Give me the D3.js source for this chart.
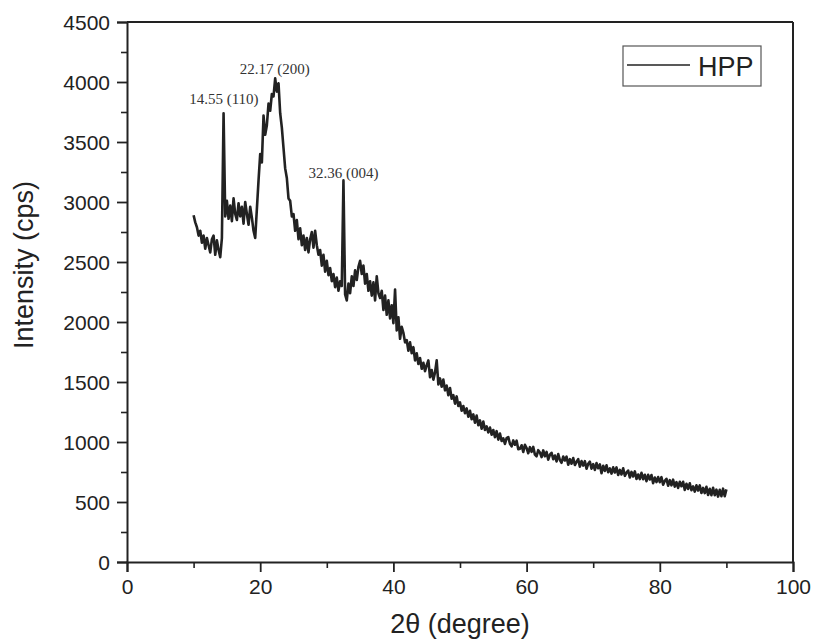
<!DOCTYPE html>
<html>
<head>
<meta charset="utf-8">
<script src="https://cdn.jsdelivr.net/npm/d3@7"></script>
<style>
  body { margin: 0; background: #fff; }
  .tick text { font-family: "Liberation Sans", Arial, sans-serif; font-size: 21px; fill: #222; }
  .axisText { font-family: "Liberation Sans", Arial, sans-serif; font-size: 27px; fill: #222; }
  .peakText { font-family: "Liberation Serif", "Times New Roman", serif; font-size: 15px; fill: #333; }
</style>
</head>
<body>
<div id="chart"></div>
<script>
// chart dimensions
var svgWidth = 814;
var svgHeight = 641;

var margin = { top: 22, right: 21, bottom: 79, left: 127 };
var width = svgWidth - margin.left - margin.right;
var height = svgHeight - margin.top - margin.bottom;

// data: 2theta sampled every 0.25 degree from 10 to 90, intensity in cps
var thetaStart = 10;
var thetaStep = 0.25;
var intensity = [
  // 10 - 19.75
  2890, 2830, 2790, 2720,  2760, 2660, 2720, 2610,  2700, 2640, 2580, 2690,
  2720, 2560, 2680, 2600,  2540, 2700, 3740, 2880,  3010, 2860, 2970, 2840,
  3030, 2900, 2850, 2990,  2880, 2960, 2820, 3000,  2900, 2810, 2960, 2870,
  2760, 2700, 2940, 3180,
  // 20 - 29.75
  3400, 3330, 3720, 3560,  3640, 3820, 3760, 3900,  3880, 4030, 3920, 3990,
  3740, 3620, 3450, 3280,  3200, 3030, 3010, 2880,  2900, 2760, 2850, 2690,
  2780, 2640, 2720, 2600,  2700, 2580, 2690, 2750,  2620, 2760, 2640, 2560,
  2600, 2470, 2560, 2420,
  // 30 - 39.75
  2510, 2390, 2450, 2340,  2400, 2290, 2370, 2260,  2340, 2300, 3180, 2230,
  2180, 2320, 2240, 2380,  2300, 2430, 2350, 2460,  2510, 2400, 2470, 2320,
  2400, 2260, 2340, 2220,  2330, 2180, 2380, 2240,  2200, 2260, 2100, 2220,
  2060, 2180, 2030, 2140,
  // 40 - 49.75
  1990, 2270, 1930, 2040,  1860, 1960, 1910, 1830,  1850, 1760, 1830, 1740,
  1790, 1680, 1740, 1650,  1700, 1610, 1660, 1590,  1640, 1680, 1540, 1600,
  1520, 1580, 1680, 1480,  1530, 1460, 1520, 1430,  1470, 1390, 1450, 1360,
  1390, 1320, 1380, 1300,
  // 50 - 59.75
  1330, 1260, 1300, 1240,  1280, 1210, 1260, 1190,  1230, 1160, 1220, 1140,
  1180, 1110, 1170, 1100,  1130, 1080, 1120, 1060,  1100, 1040, 1090, 1020,
  1070, 1008, 1031, 984,   1032, 1041, 985, 964,    1013, 977, 1011, 940,
  944, 973, 917, 976,
  // 60 - 69.75
  950, 906, 957, 918,      959, 895, 881, 932,      913, 874, 930, 881,
  917, 853, 894, 910,      856, 887, 838, 899,      850, 827, 879, 846,
  878, 810, 857, 819,      866, 808, 835, 857,      794, 841, 803, 840,
  777, 819, 836, 778,
  // 70 - 79.75
  815, 767, 824, 781,      813, 740, 802, 759,      806, 748, 780, 737,
  789, 746, 788, 725,      767, 729, 781, 718,      745, 762, 704, 751,
  713, 755, 692, 729,      691, 743, 690, 727,      674, 726, 688, 725,
  657, 704, 666, 708,
  // 80 - 90
  665, 707, 644, 676,      693, 635, 682, 639,      686, 628, 665, 617,
  669, 631, 668, 600,      652, 609, 656, 598,      630, 587, 639, 596,
  638, 575, 617, 574,      626, 558, 610, 557,      619, 556, 603, 545,
  602, 549, 611, 548,      605
];

// peak labels
var peakTheta = [14.55, 22.17, 32.5];
var peakLabels = ["14.55 (110)", "22.17 (200)", "32.36 (004)"];
var peakLabelY = [3820, 4070, 3200];

var seriesName = "HPP";

var xTicks = [0, 20, 40, 60, 80, 100];
var yTicks = [0, 500, 1000, 1500, 2000, 2500, 3000, 3500, 4000, 4500];

var xrdData = intensity.map(function(v, i) {
  return { theta: thetaStart + i * thetaStep, cps: v };
});

var svg = d3.select("#chart")
  .append("svg")
  .attr("width", svgWidth)
  .attr("height", svgHeight);

var chartGroup = svg.append("g")
  .attr("transform", `translate(${margin.left}, ${margin.top})`);

// scales
var xLinearScale = d3.scaleLinear().domain([0, 100]).range([0, width]);
var yLinearScale = d3.scaleLinear().domain([0, 4500]).range([height, 0]);

// minor ticks first
chartGroup.append("g")
  .attr("transform", `translate(0, ${height})`)
  .call(d3.axisBottom(xLinearScale).tickValues(d3.range(10, 100, 20)).tickSize(6).tickFormat(""))
  .call(g => g.select(".domain").remove())
  .selectAll("line").attr("stroke", "#222").attr("stroke-width", 1.6);

chartGroup.append("g")
  .call(d3.axisLeft(yLinearScale).tickValues(d3.range(250, 4500, 500)).tickSize(6).tickFormat(""))
  .call(g => g.select(".domain").remove())
  .selectAll("line").attr("stroke", "#222").attr("stroke-width", 1.6);

// major axes
var bottomAxis = d3.axisBottom(xLinearScale).tickValues(xTicks).tickSize(10).tickPadding(7).tickFormat(d3.format("d"));
var leftAxis = d3.axisLeft(yLinearScale).tickValues(yTicks).tickSize(10).tickPadding(7).tickFormat(d3.format("d"));

var xAxisG = chartGroup.append("g")
  .attr("transform", `translate(0, ${height})`)
  .call(bottomAxis);

var yAxisG = chartGroup.append("g")
  .call(leftAxis);

[xAxisG, yAxisG].forEach(function(g) {
  g.select(".domain").attr("stroke", "#222").attr("stroke-width", 2);
  g.selectAll(".tick line").attr("stroke", "#222").attr("stroke-width", 1.8);
  g.selectAll(".tick text").attr("font-family", null).attr("font-size", null);
});
yAxisG.selectAll(".tick text").attr("dy", "0.36em");

// top and right frame lines
chartGroup.append("line")
  .attr("x1", 0).attr("x2", width).attr("y1", 0).attr("y2", 0)
  .attr("stroke", "#222").attr("stroke-width", 2);
chartGroup.append("line")
  .attr("x1", width).attr("x2", width).attr("y1", 0).attr("y2", height)
  .attr("stroke", "#222").attr("stroke-width", 2);

// xrd line
var line = d3.line()
  .x(d => xLinearScale(d.theta))
  .y(d => yLinearScale(d.cps));

chartGroup.append("path")
  .datum(xrdData)
  .attr("fill", "none")
  .attr("stroke", "#222")
  .attr("stroke-width", 2.6)
  .attr("stroke-linejoin", "round")
  .attr("d", line);

// peak annotations
chartGroup.selectAll(".peakText")
  .data(peakLabels)
  .enter()
  .append("text")
  .classed("peakText", true)
  .attr("x", (d, i) => xLinearScale(peakTheta[i]))
  .attr("y", (d, i) => yLinearScale(peakLabelY[i]))
  .attr("text-anchor", "middle")
  .text(d => d);

// legend
var legend = chartGroup.append("g")
  .attr("transform", `translate(${623 - margin.left}, ${46 - margin.top})`);
legend.append("rect")
  .attr("width", 138).attr("height", 40)
  .attr("fill", "none").attr("stroke", "#555").attr("stroke-width", 1.2);
legend.append("line")
  .attr("x1", 4).attr("x2", 67).attr("y1", 19).attr("y2", 19)
  .attr("stroke", "#222").attr("stroke-width", 1.6);
legend.append("text")
  .attr("class", "axisText")
  .attr("x", 75).attr("y", 30)
  .text(seriesName);

// axis labels
chartGroup.append("text")
  .attr("class", "axisText")
  .attr("text-anchor", "middle")
  .attr("transform", `translate(${width / 2}, ${height + 71})`)
  .text("2θ (degree)");

chartGroup.append("text")
  .attr("class", "axisText")
  .attr("text-anchor", "middle")
  .attr("transform", `translate(${-margin.left + 33}, ${265 - margin.top}) rotate(-90)`)
  .text("Intensity (cps)");
</script>
</body>
</html>
